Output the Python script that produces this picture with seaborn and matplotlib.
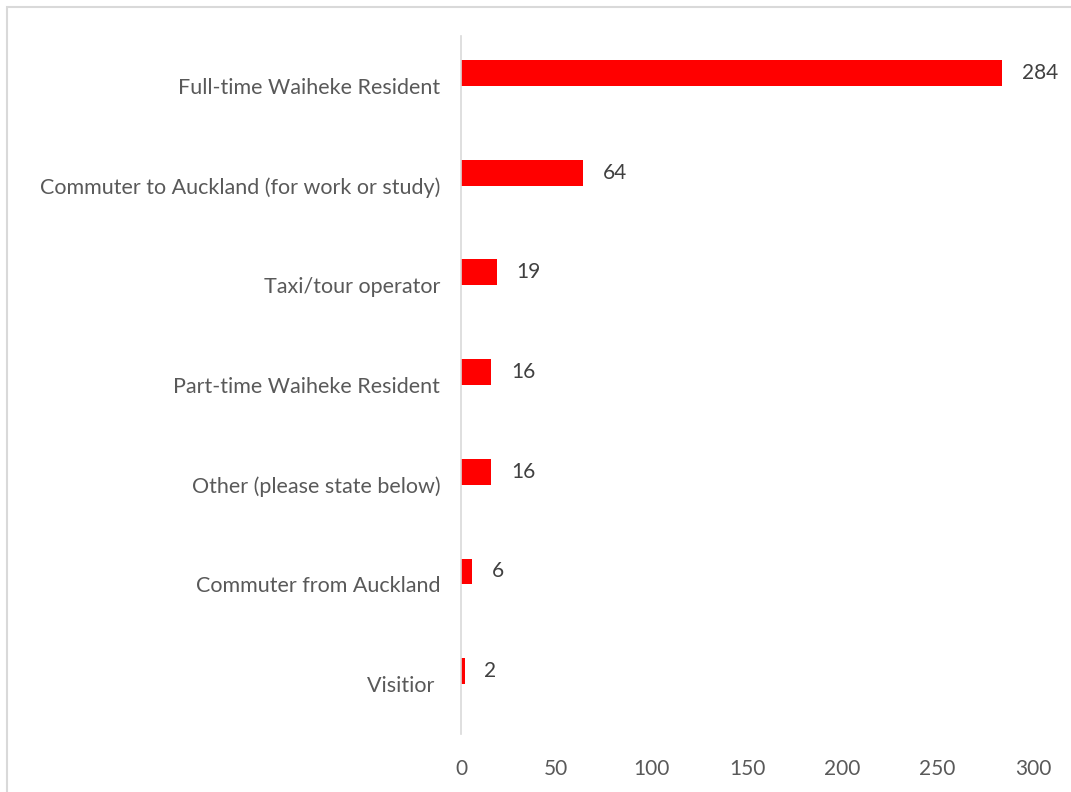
import matplotlib
matplotlib.use("Agg")
import matplotlib.pyplot as plt
from matplotlib.patches import Rectangle
import seaborn as sns
import pandas as pd

categories = [
    "Full-time Waiheke Resident",
    "Commuter to Auckland (for work or study)",
    "Taxi/tour operator",
    "Part-time Waiheke Resident",
    "Other (please state below)",
    "Commuter from Auckland",
    "Visitior ",
]
counts = [284, 64, 19, 16, 16, 6, 2]
x_ticks = [0, 50, 100, 150, 200, 250, 300]

df = pd.DataFrame({"category": categories, "count": counts, "series": "Responses"})

sns.set_theme(style="white")
plt.rcParams["font.family"] = ["Lato", "DejaVu Sans"]

text_color = "#595959"
grid_color = "#d9d9d9"

fig = plt.figure(figsize=(10.71, 7.92), dpi=100)
ax = fig.add_axes([0.4304, 0.0732, 0.5341, 0.8813])

# Two-slot dodge leaves the bar in the upper half of each band
sns.barplot(
    data=df, x="count", y="category", hue="series",
    hue_order=["Responses", "Spare"], palette=["#ff0000", "#ffffff"],
    width=0.52, dodge=True, legend=False, orient="h", ax=ax,
    saturation=1, linewidth=0,
)

ax.set_xlim(0, 300)
ax.set_ylim(6.5, -0.5)
ax.set_xticks(x_ticks)
ax.set_xticklabels([str(t) for t in x_ticks])
ax.set_xlabel("")
ax.set_ylabel("")

for side in ["top", "right", "bottom"]:
    ax.spines[side].set_visible(False)
ax.spines["left"].set_color(grid_color)
ax.spines["left"].set_linewidth(1.2)

ax.tick_params(axis="y", length=0, labelsize=15.5, colors=text_color, pad=15)
ax.tick_params(axis="x", length=0, labelsize=15, colors=text_color, pad=18)

ax.bar_label(ax.containers[0], labels=[str(v) for v in counts], padding=14,
             fontsize=15, color="#404040")

# Chart frame
fig.add_artist(Rectangle((7 / 1071, -0.1), 1.2, 1.1 - 7 / 792,
                         transform=fig.transFigure, fill=False,
                         edgecolor=grid_color, linewidth=1.5))

fig.savefig("out.png", dpi=100)
